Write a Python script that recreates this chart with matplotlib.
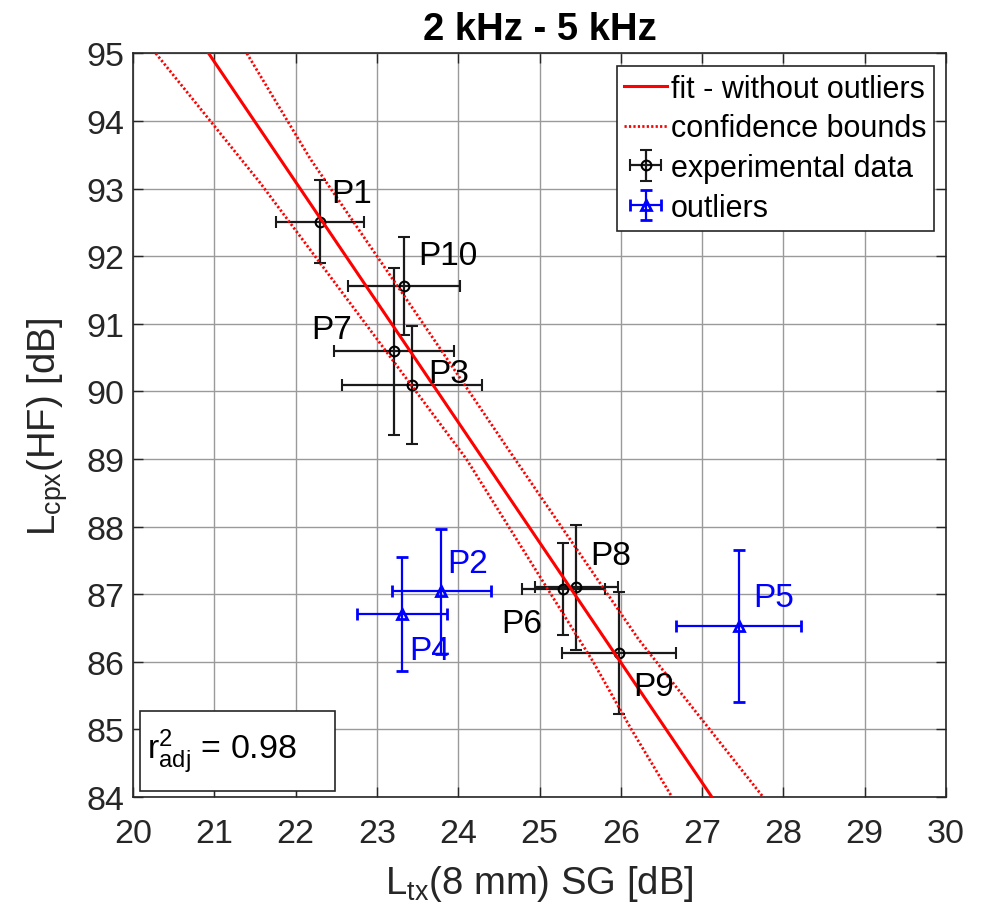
import matplotlib
matplotlib.use("Agg")
import matplotlib.pyplot as plt
from matplotlib.patches import Rectangle

plt.rcParams['font.family'] = ['Liberation Sans', 'DejaVu Sans']
plt.rcParams['mathtext.fontset'] = 'custom'
plt.rcParams['mathtext.rm'] = 'Liberation Sans'
plt.rcParams['mathtext.it'] = 'Liberation Sans:italic'

# experimental points (used in the fit)
exp_names = ['P1', 'P10', 'P7', 'P3', 'P6', 'P8', 'P9']
exp_x = [22.30, 23.33, 23.21, 23.43, 25.29, 25.45, 25.98]
exp_y = [92.51, 91.56, 90.59, 90.09, 87.08, 87.10, 86.13]
exp_xerr = [0.54, 0.69, 0.74, 0.86, 0.51, 0.51, 0.70]
exp_yerr = [0.61, 0.72, 1.24, 0.87, 0.68, 0.93, 0.90]

# outliers
out_names = ['P2', 'P4', 'P5']
out_x = [23.79, 23.31, 27.45]
out_y = [87.04, 86.71, 86.53]
out_xerr = [0.61, 0.55, 0.77]
out_yerr = [0.93, 0.84, 1.13]

# fit line and confidence bounds
fit_x = [20.93, 27.12]
fit_y = [95.0, 84.0]
lower_x = [20.28, 21.56, 22.86, 24.10, 25.66, 26.13, 26.63]
lower_y = [95.0, 93.09, 91.0, 89.0, 86.0, 85.0, 84.0]
upper_x = [21.40, 22.18, 23.57, 24.64, 26.22, 27.75]
upper_y = [95.0, 93.44, 91.0, 89.10, 86.33, 84.0]

r2_adj = 0.98

# label placement (data coords, anchor edge / vertical centre)
label_pos = {
    'P1': (22.44, 92.93, 'left'), 'P10': (23.51, 92.01, 'left'),
    'P7': (22.69, 90.92, 'right'), 'P3': (23.63, 90.26, 'left'),
    'P6': (25.03, 86.56, 'right'), 'P8': (25.62, 87.57, 'left'),
    'P9': (26.15, 85.64, 'left'), 'P2': (23.86, 87.45, 'left'),
    'P4': (23.40, 86.16, 'left'), 'P5': (27.63, 86.95, 'left'),
}

fig = plt.figure(figsize=(9.81, 9.12), dpi=100)
ax = fig.add_axes([133 / 981, 1 - 798 / 912, 813 / 981, 743.7 / 912])

fit_line, = ax.plot(fit_x, fit_y, color='red', lw=2.2, zorder=4)
conf_line, = ax.plot(lower_x, lower_y, color='red', lw=2, ls=(0, (0.8, 0.8)), zorder=4)
ax.plot(upper_x, upper_y, color='red', lw=2, ls=(0, (0.8, 0.8)), zorder=4)

exp_eb = ax.errorbar(exp_x, exp_y, xerr=exp_xerr, yerr=exp_yerr, fmt='o',
                     color='black', ecolor='#1a1a1a', mfc='none', ms=7, mew=1.5,
                     elinewidth=1.6, capsize=4, capthick=1.6, zorder=3)
out_eb = ax.errorbar(out_x, out_y, xerr=out_xerr, yerr=out_yerr, fmt='^',
                     color='blue', mfc='none', ms=7, mew=2,
                     elinewidth=1.6, capsize=4, capthick=1.6, zorder=3)

for name in exp_names:
    x, y, ha = label_pos[name]
    ax.text(x, y, name, fontsize=24, color='black', ha=ha, va='center', zorder=5)
for name in out_names:
    x, y, ha = label_pos[name]
    ax.text(x, y, name, fontsize=24, color='blue', ha=ha, va='center', zorder=5)

ax.set_xlim(20, 30)
ax.set_ylim(84, 95)
ax.set_xticks(range(20, 31))
ax.set_yticks(range(84, 96))
ax.grid(True, color='#9a9a9a', lw=1)
ax.set_axisbelow(True)
ax.tick_params(direction='in', top=True, right=True, length=7, width=1,
               labelsize=24.5, colors='#262626')
ax.tick_params(axis='x', pad=15)
ax.tick_params(axis='y', pad=6)
for s in ax.spines.values():
    s.set_color('#262626')
    s.set_linewidth(1.2)

ax.set_title('2 kHz - 5 kHz', fontsize=27.5, fontweight='bold', pad=10)
ax.set_xlabel(r'$\mathregular{L_{tx}}$(8 mm) SG [dB]', fontsize=27.5,
              color='#262626', labelpad=10)
ax.set_ylabel(r'$\mathregular{L_{cpx}}$(HF) [dB]', fontsize=27.5,
              color='#262626', labelpad=12)

leg = ax.legend([fit_line, conf_line, exp_eb, out_eb],
                ['fit - without outliers', 'confidence bounds',
                 'experimental data', 'outliers'],
                loc='upper right', bbox_to_anchor=(0.985, 0.983),
                borderaxespad=0, fontsize=22, handlelength=1.4,
                handletextpad=0.12, labelspacing=0.32, borderpad=0.25,
                fancybox=False, framealpha=1, edgecolor='#262626')
leg.get_frame().set_linewidth(1.2)

ax.add_patch(Rectangle((0.009, 0.008), 0.24, 0.107, transform=ax.transAxes,
                       fc='white', ec='#262626', lw=1.2, zorder=6))
ax.text(0.017, 0.062, r'$\mathregular{r^2_{adj}}$ = %.2f' % r2_adj,
        transform=ax.transAxes, fontsize=24.5, va='center', ha='left', zorder=7)

fig.savefig('out.png', dpi=100)
